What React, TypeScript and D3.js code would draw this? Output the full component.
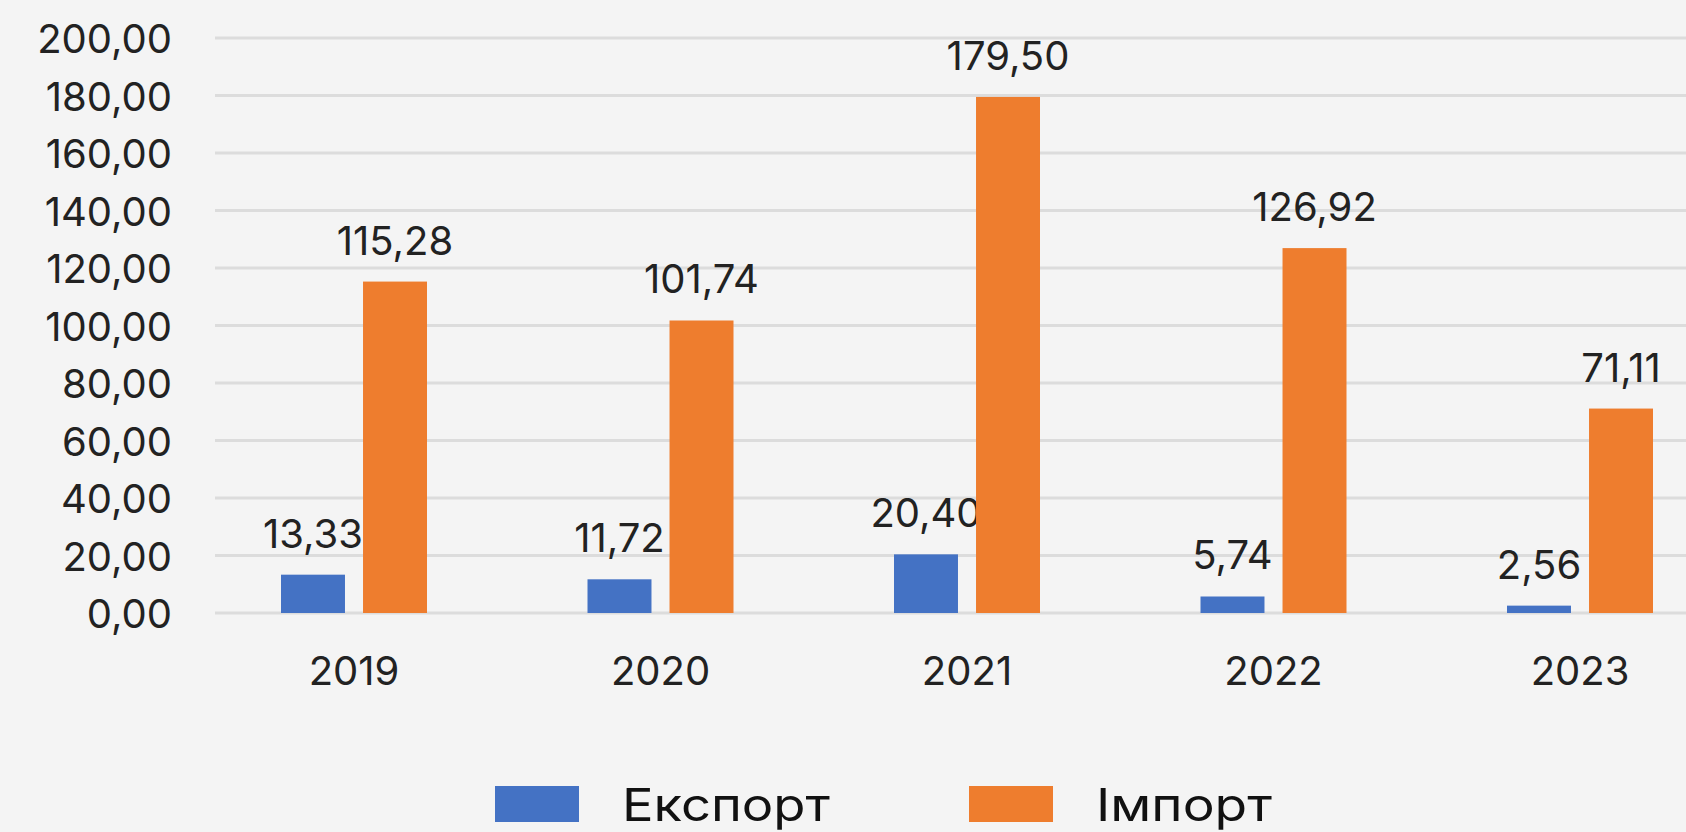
import * as d3 from 'd3';

const years = ['2019', '2020', '2021', '2022', '2023'];
const exportValues = [13.33, 11.72, 20.4, 5.74, 2.56];
const importValues = [115.28, 101.74, 179.5, 126.92, 71.11];
const seriesNames = ['Експорт', 'Імпорт'];
const seriesColors = ['#4472C4', '#EE7D2E'];
const yTicks = [0, 20, 40, 60, 80, 100, 120, 140, 160, 180, 200];

const width = 1686;
const height = 832;
const font = 'Inter, "Noto Sans", sans-serif';

const fmt = (v: number) => v.toFixed(2).replace('.', ',');

function App() {
    const x0 = d3.scalePoint<string>().domain(years).range([354, 1580]);
    const x1 = d3.scaleBand<number>().domain([0, 1]).range([-73, 73]).paddingInner(0.22);
    const y = d3.scaleLinear().domain([0, 200]).range([613, 38]);
    const series = [exportValues, importValues];

    return (
        <div style={{ position: 'fixed', inset: 0, background: '#f4f4f4' }}>
            <svg width={width} height={height} style={{ display: 'block' }}>
                <rect width={width} height={height} fill="#f4f4f4" />
                {/* grid + y labels */}
                <g>
                    {yTicks.map(t => (
                        <g key={t}>
                            <line x1={215} x2={width} y1={y(t)} y2={y(t)} stroke="#dcdcdc" strokeWidth={3} />
                            <text x={172} y={y(t)} dy="0.38em" textAnchor="end" fontFamily={font} fontSize={40} fill="#222">
                                {fmt(t)}
                            </text>
                        </g>
                    ))}
                </g>
                {/* bars */}
                {years.map((yr, i) => (
                    <g key={yr} transform={`translate(${x0(yr)},0)`}>
                        {series.map((vals, s) => (
                            <g key={s}>
                                <rect
                                    x={x1(s)}
                                    y={y(vals[i])}
                                    width={x1.bandwidth()}
                                    height={y(0) - y(vals[i])}
                                    fill={seriesColors[s]}
                                />
                                <text
                                    x={(x1(s) ?? 0) + x1.bandwidth() / 2}
                                    y={y(vals[i]) - 27}
                                    textAnchor="middle"
                                    fontFamily={font}
                                    fontSize={40}
                                    fill="#222"
                                >
                                    {fmt(vals[i])}
                                </text>
                            </g>
                        ))}
                        <text y={685} textAnchor="middle" fontFamily={font} fontSize={40} fill="#222">
                            {yr}
                        </text>
                    </g>
                ))}
                {/* legend */}
                {seriesNames.map((name, s) => (
                    <g key={name} transform={`translate(${[495, 969][s]},786)`}>
                        <rect width={84} height={36} fill={seriesColors[s]} />
                        <text
                            x={127}
                            y={35}
                            fontFamily={font}
                            fontSize={45}
                            fill="#111"
                            textLength={[208, 176][s]}
                            lengthAdjust="spacingAndGlyphs"
                        >
                            {name}
                        </text>
                    </g>
                ))}
            </svg>
        </div>
    );
}

export default App;
